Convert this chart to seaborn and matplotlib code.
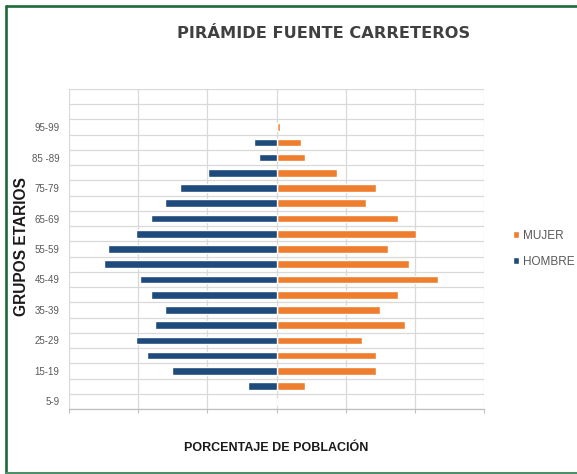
import matplotlib
matplotlib.use("Agg")
import matplotlib.pyplot as plt
from matplotlib.lines import Line2D
import seaborn as sns
import pandas as pd
import numpy as np

# age groups, bottom to top (two empty rows above 95-99)
grupos = ['5-9', '10-14', '15-19', '20-24', '25-29', '30-34', '35-39', '40-44',
          '45-49', '50-54', '55-59', '60-64', '65-69', '70-74', '75-79', '80-84',
          '85 -89', '90-94', '95-99', '100-104', '105+']
# percentages of total population
hombre = [0.0, 0.83, 3.01, 3.74, 4.05, 3.52, 3.22, 3.63, 3.94, 4.99, 4.88,
          4.05, 3.63, 3.22, 2.80, 1.97, 0.52, 0.64, 0.0]
mujer = [0.0, 0.82, 2.89, 2.89, 2.48, 3.73, 2.99, 3.52, 4.66, 3.83, 3.21,
         4.04, 3.52, 2.58, 2.89, 1.76, 0.82, 0.72, 0.10]
tick_labels = ['5-9', '15-19', '25-29', '35-39', '45-49', '55-59', '65-69',
               '75-79', '85 -89', '95-99']
x_ticks = [-6, -4, -2, 0, 2, 4, 6]

color_mujer = '#EE7D2D'
color_hombre = '#1F4A7C'

rows = []
for g, m, h in zip(grupos, mujer, hombre):
    rows.append({'grupo': g, 'valor': m, 'sexo': 'MUJER'})
    rows.append({'grupo': g, 'valor': -h, 'sexo': 'HOMBRE'})
df = pd.DataFrame(rows)

sns.set_style("white")
plt.rcParams['font.family'] = ['Liberation Sans', 'DejaVu Sans']

fig = plt.figure(figsize=(5.77, 4.74), dpi=100)
ax = fig.add_axes([69 / 577, 1 - 409 / 474, 415 / 577, 320 / 474])

order = grupos[::-1]
sns.barplot(data=df, y='grupo', x='valor', hue='sexo', order=order,
            hue_order=['MUJER', 'HOMBRE'], palette=[color_mujer, color_hombre],
            saturation=1, dodge=False, width=0.5, errorbar=None, orient='h',
            ax=ax, zorder=3)

n = len(grupos)
ax.set_xlim(-6, 6)
ax.set_ylim(n - 0.5, -0.5)
ax.set_xticks(x_ticks)
ax.set_xticklabels([])
ax.tick_params(axis='x', length=3, width=0.8, color='#bfbfbf', bottom=True)

ypos = [order.index(g) for g in grupos if g in tick_labels]
labs = [g for g in grupos if g in tick_labels]
ax.set_yticks(ypos)
ax.set_yticklabels(labs, fontsize=7, color='#595959',
                   family=['Liberation Sans Narrow', 'Liberation Sans'])
ax.set_yticks(np.arange(-0.5, n, 1), minor=True)
ax.tick_params(axis='y', which='both', length=0, pad=7)

ax.grid(axis='x', which='major', color='#d9d9d9', lw=0.9, zorder=0)
ax.grid(axis='y', which='minor', color='#d9d9d9', lw=0.9, zorder=0)
ax.set_axisbelow(True)
for s in ['top', 'right', 'left']:
    ax.spines[s].set_visible(False)
ax.spines['bottom'].set_color('#bfbfbf')
ax.spines['bottom'].set_linewidth(0.9)

ax.set_xlabel('')
ax.set_ylabel('')

handles, labels = ax.get_legend_handles_labels()
ax.legend(handles, labels, loc='center left', bbox_to_anchor=(502 / 577, 1 - 249 / 474),
          bbox_transform=fig.transFigure, frameon=False, handlelength=0.55,
          handleheight=0.55, handletextpad=0.3, labelspacing=1.2,
          prop={'size': 8.5}, labelcolor='#595959')

fig.text(324 / 577, 1 - 33 / 474, 'PIRÁMIDE FUENTE CARRETEROS', ha='center', va='center',
         fontsize=11.7, fontweight='bold', color='#404040', family='DejaVu Sans')
fig.text(276 / 577, 1 - 448 / 474, 'PORCENTAJE DE POBLACIÓN', ha='center', va='center',
         fontsize=9, fontweight='bold', color='#1a1a1a')
fig.text(22 / 577, 1 - 246 / 474, 'GRUPOS ETARIOS', ha='center', va='center',
         rotation=90, fontsize=11.2, fontweight='bold', color='#1a1a1a')

# green frame
fig.add_artist(Line2D([6 / 577, 1], [1 - 5.5 / 474, 1 - 5.5 / 474], color='#1b6a3a', lw=1.9,
                      transform=fig.transFigure))
fig.add_artist(Line2D([6 / 577, 6 / 577], [1 - 5.5 / 474, 1 - 473 / 474], color='#1b6a3a', lw=1.9,
                      transform=fig.transFigure))
fig.add_artist(Line2D([6 / 577, 1], [1 - 473 / 474, 1 - 473 / 474], color='#4f8f68', lw=1.5,
                      transform=fig.transFigure))

fig.savefig("out.png", dpi=100)
